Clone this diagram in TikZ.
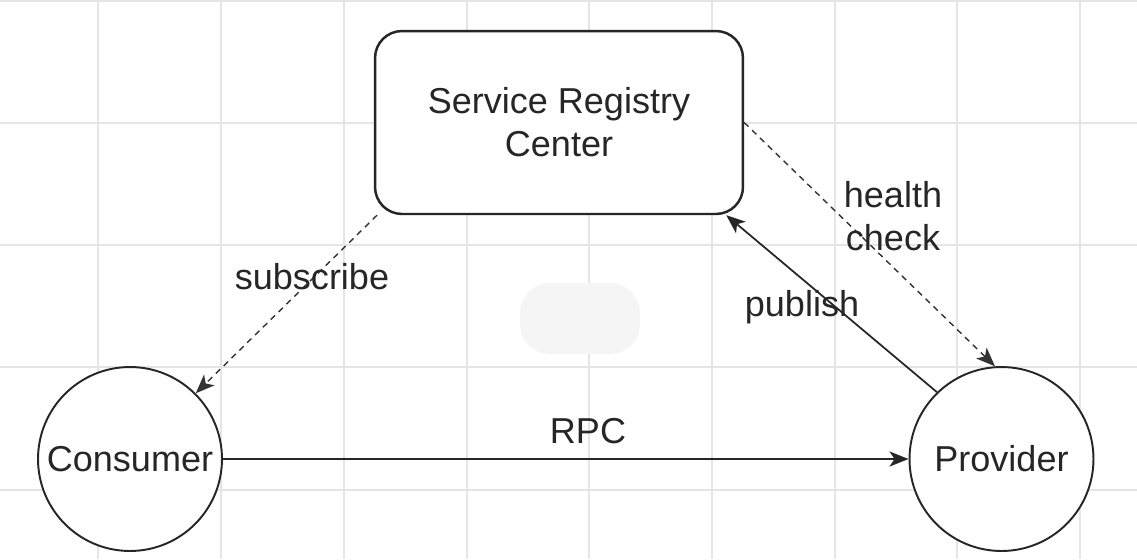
\documentclass[tikz,border=0pt]{standalone}
\usepackage{fontspec}
\setmainfont{Liberation Sans}
\usetikzlibrary{arrows.meta}
\begin{document}
\begin{tikzpicture}[x=0.02cm,y=-0.02cm,
  txt/.style={font=\fontsize{20.5}{24.6}\selectfont, text=black!85},
  regbox/.style={draw=black!85, line width=1.4pt, rounded corners=0.54cm,
    minimum width=7.36cm, minimum height=3.66cm, align=center, fill=white, txt},
  actor/.style={draw=black!85, line width=1.1pt, circle, minimum size=3.68cm,
    inner sep=0pt, fill=white, txt},
  tip/.style={-{Stealth[length=0.38cm,width=0.3cm,inset=0.1cm]}},
  solidarrow/.style={tip, draw=black!85, line width=1.2pt},
  dasharrow/.style={tip, draw=black!80, line width=0.8pt, dash pattern=on 0.12cm off 0.1cm},
  lbl/.style={txt, inner sep=0pt, align=center},
  gridline/.style={draw=black!10, line width=0.8pt}]
\useasboundingbox[fill=white] (0,0) rectangle (1137,559);
% grid
\foreach \gx in {98,221,344,467,589,712,835,957,1080}
  \draw[gridline] (\gx,0) -- (\gx,559);
\foreach \gy in {1,123,245,367,490}
  \draw[gridline] (0,\gy) -- (1137,\gy);
% faint blob
\fill[black!4, rounded corners=0.6cm] (520,283) rectangle (640,354);
% nodes
\node[regbox] (reg) at (559,122.5) {Service Registry\\Center};
\node[actor] (con) at (130,459) {Consumer};
\node[actor] (prov) at (1001.5,459) {Provider};
% connectors
\draw[solidarrow] (con.east) -- (prov.west);
\draw[dasharrow] (reg.207) -- (con.45);
\draw[dasharrow] (reg.east) -- (prov.94);
\draw[solidarrow, line width=1pt] (prov.134) -- (reg.-29);
% labels
\node[lbl] (lrpc) at (588,431) {RPC};
\node[lbl] (lsub) at (312,277) {subscribe};
\node[lbl] (lhc) at (893,216) {health\\check};
\node[lbl] (lpub) at (802,307) {publish};
\end{tikzpicture}
\end{document}
